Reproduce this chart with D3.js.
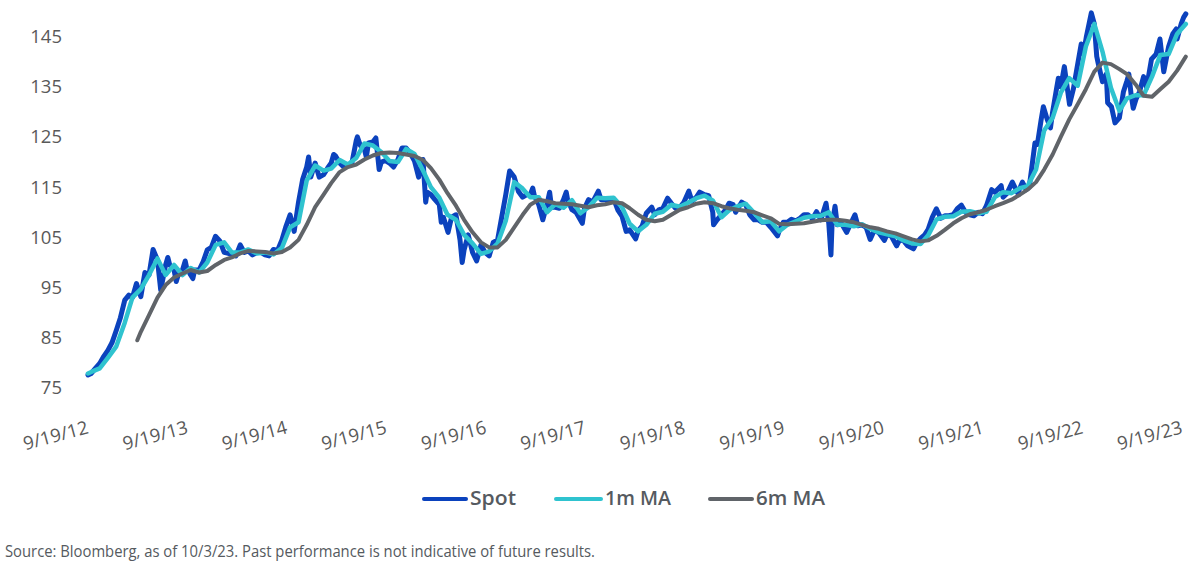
<!DOCTYPE html>
<html>
<head>
<meta charset="utf-8">
<script src="https://cdn.jsdelivr.net/npm/d3@7"></script>
<style>
  body { margin: 0; background: #fff; }
  text { font-family: "Open Sans", "Noto Sans", sans-serif; }
</style>
</head>
<body>
<div id="chart"></div>
<script>
var width = 1200, height = 578;

// USD/JPY spot
var spot = [
  ["2012-09-19",77.6],["2012-10-01",77.9],["2012-10-16",78.9],["2012-11-01",79.9],["2012-11-16",81.3],["2012-12-01",82.5],["2012-12-16",84.0],
  ["2013-01-01",86.5],["2013-01-16",89.0],["2013-02-01",92.5],["2013-02-16",93.5],["2013-03-01",93.0],["2013-03-16",95.8],["2013-04-01",93.2],
  ["2013-04-16",98.0],["2013-05-01",97.5],["2013-05-16",102.6],["2013-06-01",100.5],["2013-06-13",94.5],["2013-07-01",99.5],["2013-07-09",101.0],
  ["2013-07-16",99.5],["2013-08-01",98.5],["2013-08-09",96.2],["2013-08-16",97.5],["2013-09-01",98.5],["2013-09-11",100.3],["2013-09-16",99.0],
  ["2013-10-01",97.5],["2013-10-09",96.8],["2013-10-16",98.5],["2013-11-01",98.5],["2013-11-16",100.2],["2013-12-01",102.5],["2013-12-16",103.0],
  ["2013-12-31",105.2],["2014-01-16",104.3],["2014-02-01",102.0],["2014-02-16",101.8],["2014-03-01",101.8],["2014-03-16",101.3],["2014-04-01",103.5],
  ["2014-04-16",102.0],["2014-05-01",102.3],["2014-05-16",101.5],["2014-06-01",102.0],["2014-06-16",102.0],["2014-07-01",101.5],["2014-07-16",101.3],
  ["2014-08-01",102.6],["2014-08-16",102.4],["2014-09-01",104.5],["2014-09-16",107.2],["2014-10-01",109.5],["2014-10-16",106.2],["2014-11-01",112.0],
  ["2014-11-16",116.5],["2014-12-01",119.0],["2014-12-08",121.0],["2014-12-16",117.0],["2015-01-01",119.8],["2015-01-16",117.0],["2015-02-01",117.5],
  ["2015-02-16",118.8],["2015-03-01",119.8],["2015-03-10",121.5],["2015-03-16",121.3],["2015-04-01",119.8],["2015-04-16",119.0],["2015-05-01",119.3],
  ["2015-05-16",119.8],["2015-06-01",124.3],["2015-06-05",125.0],["2015-06-16",123.3],["2015-07-01",122.5],["2015-07-08",121.0],["2015-07-16",123.8],
  ["2015-08-01",124.0],["2015-08-12",124.8],["2015-08-24",118.5],["2015-09-01",120.0],["2015-09-16",120.3],["2015-10-01",119.8],["2015-10-16",119.0],
  ["2015-11-01",120.5],["2015-11-16",122.8],["2015-12-01",122.8],["2015-12-16",121.8],["2016-01-01",120.2],["2016-01-16",117.0],["2016-02-01",120.5],
  ["2016-02-11",112.0],["2016-02-16",114.0],["2016-03-01",113.5],["2016-03-16",112.5],["2016-04-01",111.5],["2016-04-08",108.0],["2016-04-16",109.0],
  ["2016-05-03",106.0],["2016-05-16",109.0],["2016-06-01",109.5],["2016-06-16",104.5],["2016-06-24",100.0],["2016-07-01",102.5],["2016-07-16",105.5],
  ["2016-08-01",102.0],["2016-08-16",100.3],["2016-09-01",103.5],["2016-09-16",102.0],["2016-10-01",101.3],["2016-10-16",104.0],["2016-11-01",104.5],
  ["2016-11-16",109.0],["2016-12-01",113.5],["2016-12-15",118.2],["2017-01-01",117.0],["2017-01-16",114.2],["2017-02-01",113.0],["2017-02-16",113.5],
  ["2017-03-01",113.5],["2017-03-10",114.8],["2017-03-16",113.3],["2017-04-01",111.5],["2017-04-16",108.5],["2017-05-01",111.5],["2017-05-11",114.0],
  ["2017-05-18",111.0],["2017-06-01",111.0],["2017-06-16",110.8],["2017-07-01",112.5],["2017-07-11",114.0],["2017-07-16",112.5],["2017-08-01",110.5],
  ["2017-08-16",110.0],["2017-09-08",107.8],["2017-09-16",110.8],["2017-10-01",112.5],["2017-10-16",112.0],["2017-11-06",114.2],["2017-11-16",112.5],
  ["2017-12-01",112.5],["2017-12-16",112.5],["2018-01-01",112.7],["2018-01-16",110.5],["2018-02-01",109.2],["2018-02-16",106.2],["2018-03-01",106.5],
  ["2018-03-23",104.7],["2018-04-01",106.3],["2018-04-16",107.3],["2018-05-01",109.8],["2018-05-21",111.0],["2018-06-01",109.5],["2018-06-16",110.5],
  ["2018-07-01",110.8],["2018-07-18",112.8],["2018-08-01",111.8],["2018-08-16",110.8],["2018-09-01",111.0],["2018-09-16",112.0],["2018-10-04",114.2],
  ["2018-10-16",112.2],["2018-11-01",113.0],["2018-11-13",114.0],["2018-12-01",113.5],["2018-12-16",113.3],["2018-12-31",110.0],["2019-01-03",107.5],
  ["2019-01-16",108.5],["2019-02-01",109.5],["2019-02-16",110.5],["2019-03-01",111.8],["2019-03-16",111.5],["2019-03-25",110.0],["2019-04-16",112.0],
  ["2019-05-01",111.5],["2019-05-16",109.5],["2019-06-01",108.5],["2019-06-16",108.5],["2019-07-01",108.0],["2019-07-16",108.0],["2019-08-01",107.0],
  ["2019-08-26",105.3],["2019-09-01",106.3],["2019-09-16",108.0],["2019-10-01",108.0],["2019-10-16",108.6],["2019-11-01",108.3],["2019-11-16",108.8],
  ["2019-12-01",109.5],["2019-12-16",109.5],["2020-01-01",108.7],["2020-01-16",110.1],["2020-02-01",108.5],["2020-02-20",111.8],["2020-03-01",107.8],
  ["2020-03-09",101.5],["2020-03-13",107.5],["2020-03-24",111.2],["2020-04-01",107.5],["2020-04-16",107.8],["2020-05-06",106.0],["2020-05-16",107.2],
  ["2020-06-05",109.5],["2020-06-16",107.3],["2020-07-01",107.5],["2020-07-16",107.0],["2020-07-31",104.6],["2020-08-16",106.5],["2020-09-01",105.9],
  ["2020-09-21",104.4],["2020-10-01",105.6],["2020-10-16",105.3],["2020-11-05",103.3],["2020-11-16",104.5],["2020-12-01",104.3],["2020-12-16",103.3],
  ["2021-01-06",102.7],["2021-01-16",103.8],["2021-02-01",104.8],["2021-02-16",105.5],["2021-03-01",106.6],["2021-03-16",109.0],["2021-03-31",110.7],
  ["2021-04-16",108.8],["2021-05-01",109.3],["2021-05-16",109.3],["2021-06-01",109.5],["2021-06-16",110.7],["2021-07-01",111.4],["2021-07-16",110.0],
  ["2021-08-01",109.5],["2021-08-16",109.3],["2021-09-01",110.0],["2021-09-16",109.7],["2021-10-01",111.3],["2021-10-20",114.5],["2021-11-01",114.0],
  ["2021-11-24",115.3],["2021-12-01",113.0],["2021-12-16",113.8],["2022-01-04",116.0],["2022-01-24",113.8],["2022-02-10",116.0],["2022-02-24",114.5],
  ["2022-03-07",115.0],["2022-03-16",118.7],["2022-03-28",123.8],["2022-04-06",123.5],["2022-04-20",128.5],["2022-04-28",131.0],["2022-05-12",128.5],
  ["2022-05-24",126.8],["2022-06-01",130.0],["2022-06-15",134.5],["2022-06-22",136.7],["2022-07-01",135.0],["2022-07-14",139.0],["2022-08-02",131.5],
  ["2022-08-16",134.5],["2022-09-01",139.5],["2022-09-14",143.5],["2022-09-22",141.5],["2022-10-03",145.0],["2022-10-21",149.7],["2022-11-01",147.5],
  ["2022-11-10",141.0],["2022-11-16",139.5],["2022-12-01",136.0],["2022-12-15",137.5],["2022-12-20",131.8],["2023-01-03",131.0],["2023-01-16",127.8],
  ["2023-02-01",128.8],["2023-02-16",134.0],["2023-03-01",136.2],["2023-03-08",137.5],["2023-03-16",133.5],["2023-03-24",130.7],["2023-04-03",132.5],
  ["2023-04-16",134.0],["2023-05-01",137.0],["2023-05-12",134.8],["2023-05-30",140.5],["2023-06-16",141.5],["2023-06-30",144.5],["2023-07-14",138.0],
  ["2023-08-01",143.0],["2023-08-16",145.5],["2023-08-29",146.5],["2023-09-01",144.5],["2023-09-16",147.5],["2023-09-25",148.8],["2023-10-03",149.5]
];

// 1-month moving average, monthly readings
var ma1m = [
  ["2012-09-19",77.9],["2012-10-01",78.2],["2012-11-01",78.9],["2012-12-01",81.0],["2013-01-01",83.3],["2013-02-01",88.0],["2013-03-01",93.0],
  ["2013-04-01",94.7],["2013-05-01",97.5],["2013-06-01",100.8],["2013-07-01",97.5],["2013-08-01",99.5],["2013-09-01",97.5],["2013-10-01",98.9],
  ["2013-11-01",98.0],["2013-12-01",100.0],["2014-01-01",103.5],["2014-02-01",104.0],["2014-03-01",102.0],["2014-04-01",102.0],["2014-05-01",102.6],
  ["2014-06-01",101.8],["2014-07-01",102.0],["2014-08-01",101.6],["2014-09-01",102.9],["2014-10-01",107.0],["2014-11-01",108.0],["2014-12-01",116.3],
  ["2015-01-01",119.3],["2015-02-01",118.3],["2015-03-01",118.7],["2015-04-01",120.4],["2015-05-01",119.5],["2015-06-01",120.8],["2015-07-01",123.7],
  ["2015-08-01",123.3],["2015-09-01",122.0],["2015-10-01",120.2],["2015-11-01",120.0],["2015-12-01",122.6],["2016-01-01",121.6],["2016-02-01",118.3],
  ["2016-03-01",115.0],["2016-04-01",112.9],["2016-05-01",109.5],["2016-06-01",108.5],["2016-07-01",105.5],["2016-08-01",103.8],["2016-09-01",101.7],
  ["2016-10-01",102.2],["2016-11-01",103.8],["2016-12-01",108.3],["2017-01-01",116.0],["2017-02-01",114.7],["2017-03-01",113.0],["2017-04-01",113.0],
  ["2017-05-01",110.0],["2017-06-01",111.6],["2017-07-01",110.9],["2017-08-01",112.4],["2017-09-01",109.8],["2017-10-01",111.0],["2017-11-01",112.9],
  ["2017-12-01",112.8],["2018-01-01",112.9],["2018-02-01",111.0],["2018-03-01",107.7],["2018-04-01",106.2],["2018-05-01",107.5],["2018-06-01",109.7],
  ["2018-07-01",110.1],["2018-08-01",111.5],["2018-09-01",111.1],["2018-10-01",111.9],["2018-11-01",112.8],["2018-12-01",113.3],["2019-01-01",112.3],
  ["2019-02-01",109.0],["2019-03-01",110.4],["2019-04-01",111.2],["2019-05-01",111.7],["2019-06-01",109.9],["2019-07-01",108.0],["2019-08-01",108.2],
  ["2019-09-01",106.2],["2019-10-01",107.5],["2019-11-01",108.2],["2019-12-01",108.9],["2020-01-01",109.2],["2020-02-01",109.3],["2020-03-01",110.0],
  ["2020-04-01",107.5],["2020-05-01",107.5],["2020-06-01",107.2],["2020-07-01",107.6],["2020-08-01",106.7],["2020-09-01",106.0],["2020-10-01",105.6],
  ["2020-11-01",105.2],["2020-12-01",104.4],["2021-01-01",103.8],["2021-02-01",103.7],["2021-03-01",105.4],["2021-04-01",108.6],["2021-05-01",109.1],
  ["2021-06-01",109.2],["2021-07-01",110.1],["2021-08-01",110.2],["2021-09-01",109.8],["2021-10-01",110.1],["2021-11-01",113.0],["2021-12-01",114.0],
  ["2022-01-01",113.8],["2022-02-01",114.8],["2022-03-01",115.2],["2022-04-01",118.5],["2022-05-01",126.3],["2022-06-01",128.8],["2022-07-01",133.8],
  ["2022-08-01",136.7],["2022-09-01",135.2],["2022-10-01",143.0],["2022-11-01",147.5],["2022-12-01",142.0],["2023-01-01",134.8],["2023-02-01",130.2],
  ["2023-03-01",132.7],["2023-04-01",133.3],["2023-05-01",133.3],["2023-06-01",137.0],["2023-07-01",141.3],["2023-08-01",141.5],["2023-09-01",145.5],
  ["2023-10-03",147.5]
];

// 6-month moving average, monthly readings
var ma6m = [
  ["2013-03-19",84.5],["2013-04-01",86.2],["2013-05-01",89.5],["2013-06-01",93.0],["2013-07-01",95.5],["2013-08-01",97.0],["2013-09-01",97.8],
  ["2013-10-01",98.5],["2013-11-01",98.0],["2013-12-01",98.3],["2014-01-01",99.5],["2014-02-01",100.5],["2014-03-01",101.0],["2014-04-01",101.8],
  ["2014-05-01",102.3],["2014-06-01",102.2],["2014-07-01",102.1],["2014-08-01",101.8],["2014-09-01",102.1],["2014-10-01",103.0],["2014-11-01",104.5],
  ["2014-12-01",107.5],["2015-01-01",111.0],["2015-02-01",113.5],["2015-03-01",115.8],["2015-04-01",118.0],["2015-05-01",119.0],["2015-06-01",119.5],
  ["2015-07-01",120.5],["2015-08-01",121.3],["2015-09-01",121.8],["2015-10-01",121.9],["2015-11-01",121.8],["2015-12-01",121.5],["2016-01-01",121.2],
  ["2016-02-01",120.4],["2016-03-01",118.8],["2016-04-01",116.5],["2016-05-01",113.8],["2016-06-01",111.3],["2016-07-01",108.5],["2016-08-01",106.0],
  ["2016-09-01",104.0],["2016-10-01",103.0],["2016-11-01",103.0],["2016-12-01",104.5],["2017-01-01",107.0],["2017-02-01",109.5],["2017-03-01",111.5],
  ["2017-04-01",112.5],["2017-05-01",112.2],["2017-06-01",111.8],["2017-07-01",111.7],["2017-08-01",111.6],["2017-09-01",111.3],["2017-10-01",111.0],
  ["2017-11-01",111.4],["2017-12-01",111.6],["2018-01-01",112.0],["2018-02-01",111.8],["2018-03-01",110.8],["2018-04-01",109.5],["2018-05-01",108.5],
  ["2018-06-01",108.2],["2018-07-01",108.5],["2018-08-01",109.5],["2018-09-01",110.5],["2018-10-01",111.0],["2018-11-01",111.7],["2018-12-01",112.0],
  ["2019-01-01",111.8],["2019-02-01",111.2],["2019-03-01",110.8],["2019-04-01",110.5],["2019-05-01",110.3],["2019-06-01",110.0],["2019-07-01",109.4],
  ["2019-08-01",108.8],["2019-09-01",107.7],["2019-10-01",107.6],["2019-11-01",107.7],["2019-12-01",107.8],["2020-01-01",108.1],["2020-02-01",108.4],
  ["2020-03-01",108.5],["2020-04-01",108.5],["2020-05-01",108.3],["2020-06-01",108.0],["2020-07-01",107.5],["2020-08-01",107.0],["2020-09-01",106.7],
  ["2020-10-01",106.2],["2020-11-01",105.8],["2020-12-01",105.2],["2021-01-01",104.6],["2021-02-01",104.2],["2021-03-01",104.4],["2021-04-01",105.3],
  ["2021-05-01",106.5],["2021-06-01",107.8],["2021-07-01",108.8],["2021-08-01",109.6],["2021-09-01",110.0],["2021-10-01",110.5],["2021-11-01",111.2],
  ["2021-12-01",111.8],["2022-01-01",112.5],["2022-02-01",113.5],["2022-03-01",114.5],["2022-04-01",116.0],["2022-05-01",118.5],["2022-06-01",121.5],
  ["2022-07-01",125.0],["2022-08-01",128.5],["2022-09-01",131.5],["2022-10-01",134.5],["2022-11-01",138.0],["2022-12-01",139.8],["2023-01-01",139.5],
  ["2023-02-01",138.5],["2023-03-01",137.5],["2023-04-01",135.5],["2023-05-01",133.2],["2023-06-01",133.0],["2023-07-01",134.5],["2023-08-01",136.0],
  ["2023-09-01",138.2],["2023-10-03",141.0]
];

var yTicks = [75, 85, 95, 105, 115, 125, 135, 145];
var xTickDates = ["2012-09-19","2013-09-19","2014-09-19","2015-09-19","2016-09-19","2017-09-19",
                  "2018-09-19","2019-09-19","2020-09-19","2021-09-19","2022-09-19","2023-09-19"];
var seriesNames = ["Spot", "1m MA", "6m MA"];
var seriesColors = ["#0b42bd", "#2fc3cf", "#606469"];
var sourceNote = "Source: Bloomberg, as of 10/3/23. Past performance is not indicative of future results.";

var parseDate = d3.timeParse("%Y-%m-%d");

var svg = d3.select("#chart").append("svg")
  .attr("width", width)
  .attr("height", height);

var x = d3.scaleTime()
  .domain([parseDate("2012-09-19"), parseDate("2023-09-19")])
  .range([88, 1182]);

var y = d3.scaleLinear()
  .domain([75, 145])
  .range([388, 36.5]);

// y axis: labels only
var yAxis = svg.append("g")
  .attr("transform", "translate(68,0)")
  .call(d3.axisLeft(y).tickValues(yTicks).tickSize(0).tickPadding(6));
yAxis.select(".domain").remove();
yAxis.selectAll("text")
  .attr("font-family", "'Open Sans', sans-serif")
  .attr("font-size", 18.5)
  .attr("fill", "#595959");

// x axis: rotated date labels, no line
var xAxis = svg.append("g")
  .attr("transform", "translate(0,400)")
  .call(d3.axisBottom(x).tickValues(xTickDates.map(parseDate)).tickFormat(d3.timeFormat("%-m/%-d/%y")).tickSize(0));
xAxis.select(".domain").remove();
xAxis.selectAll("text")
  .attr("font-family", "'Open Sans', sans-serif")
  .attr("font-size", 18.5)
  .attr("fill", "#595959")
  .attr("y", 0)
  .attr("dy", 0)
  .attr("text-anchor", "end")
  .attr("transform", "translate(1,33) rotate(-15)");

var line = d3.line()
  .x(function(d) { return x(parseDate(d[0])); })
  .y(function(d) { return y(d[1]); });

var strokeWidths = [5, 4.5, 4];
[spot, ma1m, ma6m].forEach(function(s, i) {
  svg.append("path")
    .datum(s)
    .attr("fill", "none")
    .attr("stroke", seriesColors[i])
    .attr("stroke-width", strokeWidths[i])
    .attr("stroke-linejoin", "round")
    .attr("stroke-linecap", "round")
    .attr("d", line);
});

// legend
var legendPos = [
  {line: [424, 466], text: 470, len: 46},
  {line: [556, 601], text: 605, len: 66},
  {line: [710, 752], text: 756, len: 69}
];
var legend = svg.selectAll(".legend")
  .data(seriesNames)
  .join("g")
  .attr("class", "legend");

legend.append("line")
  .attr("x1", function(d, i) { return legendPos[i].line[0]; })
  .attr("x2", function(d, i) { return legendPos[i].line[1]; })
  .attr("y1", 499)
  .attr("y2", 499)
  .attr("stroke", function(d, i) { return seriesColors[i]; })
  .attr("stroke-width", 4)
  .attr("stroke-linecap", "round");

legend.append("text")
  .attr("x", function(d, i) { return legendPos[i].text; })
  .attr("y", 505)
  .attr("font-size", 20)
  .attr("font-weight", 600)
  .attr("fill", "#555a60")
  .attr("textLength", function(d, i) { return legendPos[i].len; })
  .attr("lengthAdjust", "spacingAndGlyphs")
  .text(function(d) { return d; });

svg.append("text")
  .attr("x", 5)
  .attr("y", 557)
  .attr("font-size", 17)
  .attr("fill", "#555a60")
  .attr("textLength", 590)
  .attr("lengthAdjust", "spacingAndGlyphs")
  .text(sourceNote);
</script>
</body>
</html>
